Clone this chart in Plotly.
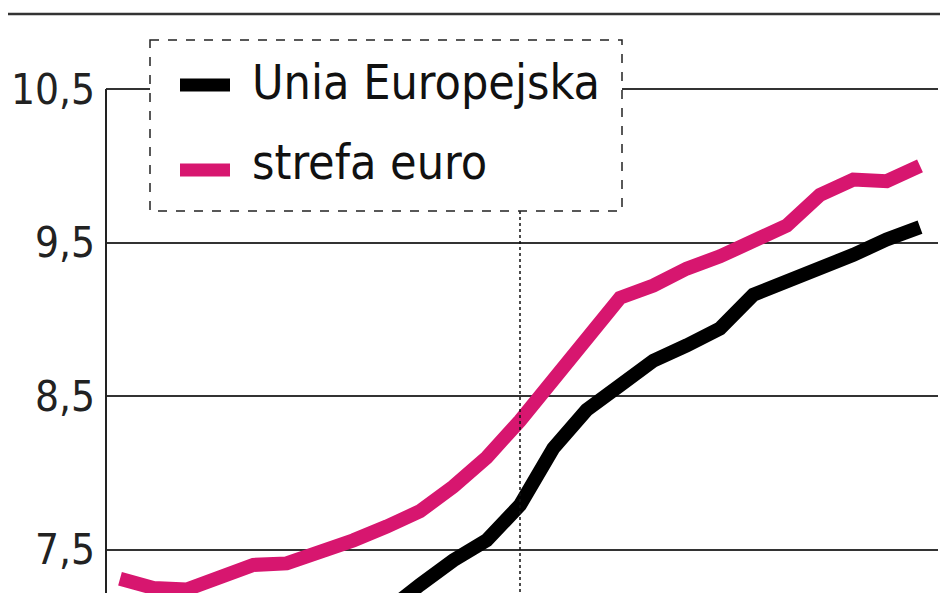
import plotly.graph_objects as go

# months Jan 2008 .. Jan 2010 (index positions)
months = list(range(25))
eu = [6.80, 6.78, 6.78, 6.82, 6.86, 6.90, 6.95, 7.02, 7.10, 7.27, 7.43, 7.56, 7.79,
      8.16, 8.41, 8.57, 8.73, 8.83, 8.94, 9.16, 9.24, 9.33, 9.42, 9.52, 9.60]
euro = [7.31, 7.25, 7.24, 7.32, 7.40, 7.41, 7.48, 7.56, 7.65, 7.75, 7.91, 8.10, 8.34,
        8.60, 8.89, 9.14, 9.22, 9.33, 9.41, 9.50, 9.61, 9.81, 9.91, 9.90, 10.00]
tick_vals = [7.5, 8.5, 9.5, 10.5]
tick_text = ["7,5", "8,5", "9,5", "10,5"]
series_names = ["Unia Europejska", "strefa euro"]
colors = ["#000000", "#D7166F"]
marker_month = 12

# page body has an 8px margin; figure is sized to fill the rest of the window
OFF = 8
W, H = 948 - OFF, 593 - OFF
L, R = 106 - OFF, 10
PW = W - L - R

def px(x):
    return (x - OFF - L) / PW

def py(y):
    return 1 - (y - OFF) / H

FONT = "Liberation Sans Narrow, DejaVu Sans Condensed, Arial Narrow, sans-serif"

fig = go.Figure()
for name, vals, c in [(series_names[0], eu, colors[0]), (series_names[1], euro, colors[1])]:
    fig.add_trace(go.Scatter(x=months, y=vals, mode="lines", name=name,
                             line=dict(color=c, width=14), showlegend=False))

shapes = [
    # top rule
    dict(type="line", xref="paper", yref="paper", x0=px(8), x1=px(948), y0=py(14), y1=py(14),
         line=dict(color="#333333", width=2.5)),
    # y axis line from top gridline down
    dict(type="line", xref="paper", yref="y", x0=0, x1=0, y0=10.5, y1=7.217,
         line=dict(color="#222222", width=2)),
    # dotted vertical marker line
    dict(type="line", xref="x", yref="paper", x0=marker_month, x1=marker_month, y0=py(211), y1=0,
         line=dict(color="#111111", width=1.5, dash="dot")),
    # legend box
    dict(type="rect", xref="paper", yref="paper", x0=px(150), x1=px(622), y0=py(40), y1=py(211),
         fillcolor="white", line=dict(color="#222222", width=1.5, dash="dash"), layer="above"),
    # legend samples
    dict(type="line", xref="paper", yref="paper", x0=px(180), x1=px(230), y0=py(85), y1=py(85),
         line=dict(color=colors[0], width=13), layer="above"),
    dict(type="line", xref="paper", yref="paper", x0=px(180), x1=px(230), y0=py(170), y1=py(170),
         line=dict(color=colors[1], width=13), layer="above"),
]

annotations = [
    dict(xref="paper", yref="paper", x=px(250), y=py(82), text=series_names[0], showarrow=False,
         xanchor="left", yanchor="middle", font=dict(family=FONT, size=48, color="#111111")),
    dict(xref="paper", yref="paper", x=px(250), y=py(162), text=series_names[1], showarrow=False,
         xanchor="left", yanchor="middle", font=dict(family=FONT, size=48, color="#111111")),
]

y_top = 10.5 + (89 - OFF) / 153.5

fig.update_layout(
    width=W, height=H,
    margin=dict(l=L, r=R, t=0, b=0, autoexpand=False),
    plot_bgcolor="white", paper_bgcolor="white",
    shapes=shapes, annotations=annotations,
    xaxis=dict(range=[-0.42, 24.54], showgrid=False, zeroline=False, showticklabels=False,
               showline=False, ticks="", automargin=False),
    yaxis=dict(range=[7.217, y_top], tickvals=tick_vals, ticktext=tick_text,
               showgrid=True, gridcolor="#333333", gridwidth=2, zeroline=False,
               showline=False, ticks="", ticklabelstandoff=10, automargin=False,
               tickfont=dict(family=FONT, size=42, color="#222222")),
)

fig.write_html("out.html")
